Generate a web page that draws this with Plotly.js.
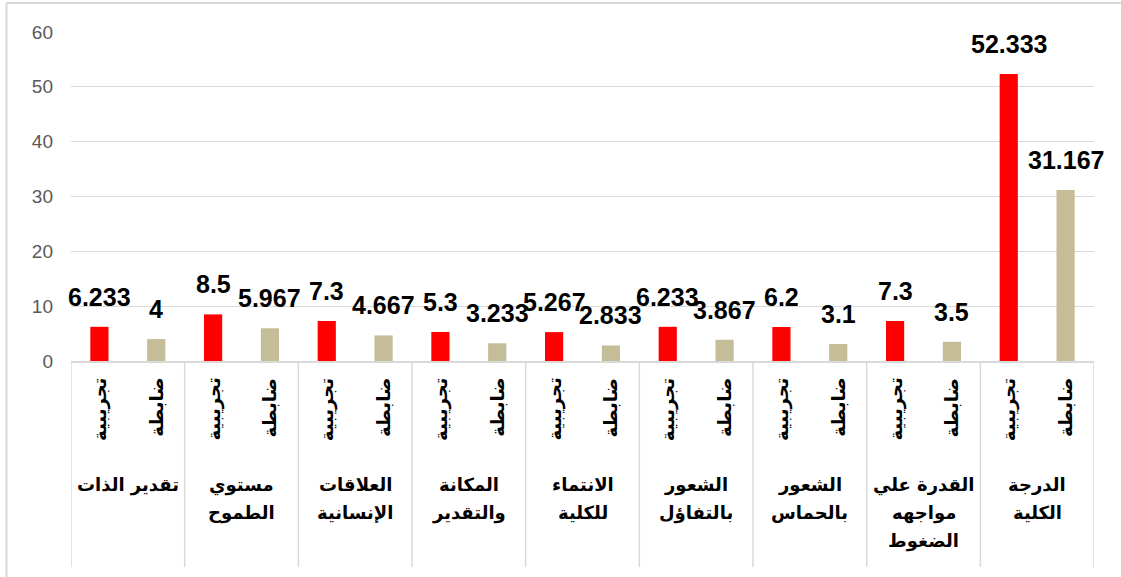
<!DOCTYPE html>
<html>
<head>
<meta charset="utf-8">
<script src="https://cdn.plot.ly/plotly-3.0.1.min.js"></script>
<style>html,body{margin:0;padding:0;background:#fff;}#chart{width:1121px;height:577px;}</style>
</head>
<body>
<div id="chart"></div>
<script>
const groups = ['تقدير الذات', 'مستوي<br>الطموح', 'العلاقات<br>الإنسانية', 'المكانة<br>والتقدير', 'الانتماء<br>للكلية', 'الشعور<br>بالتفاؤل', 'الشعور<br>بالحماس', 'القدرة علي<br>مواجهه<br>الضغوط', 'الدرجة<br>الكلية'];
const subLabels = ['تجريبية', 'ضابطة'];
const experimental = [6.233, 8.5, 7.3, 5.3, 5.267, 6.233, 6.2, 7.3, 52.333];
const control = [4, 5.967, 4.667, 3.233, 2.833, 3.867, 3.1, 3.5, 31.167];
const yTicks = [0, 10, 20, 30, 40, 50, 60];

const RED = '#ff0000', TAN = '#c4bd97', GRID = '#d9d9d9';
const arabicFont = '"DejaVu Sans", "Noto Sans", sans-serif';

const traces = [
  {type: 'bar', name: subLabels[0], x: groups, y: experimental, width: 0.16, offset: -0.33,
   marker: {color: RED}, hoverinfo: 'y'},
  {type: 'bar', name: subLabels[1], x: groups, y: control, width: 0.16, offset: 0.17,
   marker: {color: TAN}, hoverinfo: 'y'}
];

const annotations = [];
const shapes = [];
const series = [experimental, control];
const offs = [-0.25, 0.25];
groups.forEach((g, i) => {
  series.forEach((s, k) => {
    annotations.push({xref: 'x', yref: 'y', x: i + offs[k], y: s[i], yanchor: 'bottom', yshift: 14,
      text: String(s[i]), showarrow: false,
      font: {family: '"Liberation Sans", Arial, sans-serif', size: 25, color: '#000', weight: 'bold'}});
    annotations.push({xref: 'x', yref: 'y', x: i + offs[k], y: 0, yanchor: 'top', yshift: -15,
      text: '<b>' + subLabels[k] + '</b>', textangle: -90, showarrow: false,
      font: {family: arabicFont, size: 18, color: '#000'}});
  });
  g.split('<br>').forEach((line, j) => {
    annotations.push({xref: 'x', yref: 'y', x: i, y: 0, yanchor: 'top', yshift: -111 - j * 28,
      text: '<b>' + line + '</b>', showarrow: false,
      font: {family: arabicFont, size: 18, color: '#000'}});
  });
});
for (let i = 0; i <= groups.length; i++) {
  shapes.push({type: 'line', xref: 'x', yref: 'paper', x0: i - 0.5, x1: i - 0.5, y0: 0, y1: -0.626,
    line: {color: GRID, width: 1.5}});
}
// chart area border (left and top visible)
shapes.push({type: 'line', xref: 'paper', yref: 'paper', x0: -0.063, x1: -0.063, y0: 1.088, y1: -0.8,
  line: {color: GRID, width: 2}});
shapes.push({type: 'line', xref: 'paper', yref: 'paper', x0: -0.063, x1: 1.1, y0: 1.088, y1: 1.088,
  line: {color: GRID, width: 2}});

const layout = {
  width: 1121, height: 577,
  margin: {l: 71, r: 27, t: 32, b: 216},
  paper_bgcolor: '#fff', plot_bgcolor: '#fff',
  showlegend: false,
  xaxis: {type: 'category', range: [-0.5, 8.5], showticklabels: false, showgrid: false,
    showline: true, linecolor: GRID, linewidth: 1.5, ticks: '', fixedrange: true},
  yaxis: {range: [0, 60], tickvals: yTicks, ticks: '', showline: false, zeroline: false,
    gridcolor: GRID, gridwidth: 1.2, ticklabelstandoff: 17,
    tickfont: {family: '"Liberation Sans", Arial, sans-serif', size: 19, color: '#595959'}},
  annotations: annotations,
  shapes: shapes
};

Plotly.newPlot('chart', traces, layout, {displayModeBar: false, staticPlot: true});
</script>
</body>
</html>
